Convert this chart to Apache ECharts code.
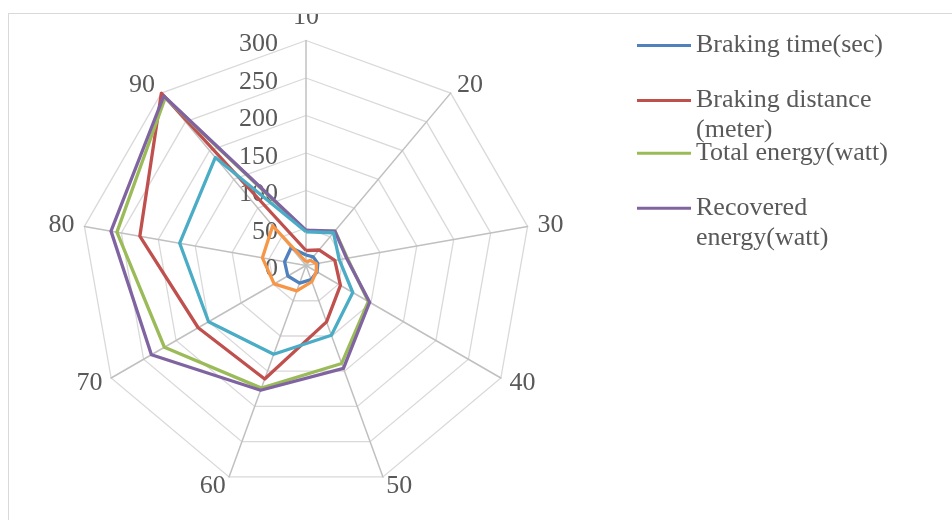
<!DOCTYPE html>
<html>
<head>
<meta charset="utf-8">
<style>
  html, body { margin: 0; padding: 0; background: #ffffff; overflow: hidden; width: 952px; height: 520px; }
  #frame { position: absolute; left: 8px; top: 13px; width: 960px; height: 520px; border: 1px solid #d9d9d9; }
  #chart { width: 960px; height: 520px; }
</style>
<script src="https://cdn.jsdelivr.net/npm/echarts@6/dist/echarts.min.js"></script>
</head>
<body>
<div id="frame"><div id="chart"></div></div>
<script>
// Spoke categories, listed clockwise from the top
const categories = ['10', '20', '30', '40', '50', '60', '70', '80', '90'];

// Value scale of the spokes
const scaleMax = 300;
const scaleSteps = 6;

// Series values, one per category
const brakingTime      = [14, 15, 16, 17, 20, 25, 28, 29, 31];
const brakingDistance  = [20, 27, 39, 53, 80, 161, 166, 225, 300];
const totalEnergy      = [46, 60, 56, 96, 139, 174, 218, 256, 292];
const recoveredEnergy  = [47, 60, 55, 98, 146, 177, 238, 264, 295];
const series5          = [45, 57, 45, 72, 99, 126, 150, 171, 188];
const series6          = [5, 9, 14, 16, 23, 36, 49, 59, 69];

const seriesNames  = ['Braking time(sec)', 'Braking distance (meter)', 'Total energy(watt)', 'Recovered energy(watt)', 'Series 5', 'Series 6'];
const seriesValues = [brakingTime, brakingDistance, totalEnergy, recoveredEnergy, series5, series6];
const seriesColors = ['#4F81BD', '#C0504D', '#9BBB59', '#8064A2', '#4BACC6', '#F79646'];

// Legend entries (only the first four are listed) and their wrapped text
const legendNames  = seriesNames.slice(0, 4);
const legendLabels = ['Braking time(sec)', 'Braking distance\n(meter)', 'Total energy(watt)', 'Recovered\nenergy(watt)'];

const FONT = '"Liberation Serif", "Times New Roman", serif';
const TEXT = '#595959';

// ECharts lays radar indicators out counter-clockwise, so walk the
// categories in reverse (keeping the first at the top) to run clockwise.
const order = [0].concat(categories.map((c, i) => i).slice(1).reverse());

const indicator = order.map((idx, k) => {
  const ind = { name: categories[idx], min: 0, max: scaleMax };
  if (k === 0) {
    // value labels sit a little below each ring on the top spoke
    ind.axisLabel = {
      show: true, color: TEXT, fontSize: 26, fontFamily: FONT, margin: 28,
      verticalAlign: 'top', lineHeight: 8
    };
  }
  return ind;
});

const radarData = seriesValues.map((vals, i) => ({
  name: seriesNames[i],
  value: order.map(idx => vals[idx]),
  itemStyle: { color: seriesColors[i] },
  lineStyle: { color: seriesColors[i], width: 3.3, join: 'round' }
}));

// One legend block per entry so the swatch sits on the first text line
const legendTops = [16.5, 41.5, 124.3, 149.3];
const legends = legendNames.map((name, i) => {
  const label = legendLabels[i];
  return {
    data: [name],
    orient: 'vertical',
    left: 628,
    top: legendTops[i],
    padding: 0,
    icon: 'rect',
    itemWidth: 54,
    itemHeight: 3,
    selectedMode: false,
    formatter: () => (label.indexOf('\n') >= 0 ? ' \n' + label : label),
    textStyle: { color: TEXT, fontSize: 26, fontFamily: FONT, lineHeight: 30 }
  };
});

const chart = echarts.init(document.getElementById('chart'), null, { renderer: 'canvas' });
chart.setOption({
  animation: false,
  backgroundColor: '#ffffff',
  legend: legends,
  radar: {
    center: [297, 251.5],
    radius: 225,
    startAngle: 90,
    shape: 'polygon',
    splitNumber: scaleSteps,
    indicator: indicator,
    nameGap: 10,
    axisName: { color: TEXT, fontSize: 26, fontFamily: FONT },
    axisLabel: { show: false },
    axisTick: { show: false },
    axisLine: { lineStyle: { color: '#c0c0c0', width: 1.5 } },
    splitLine: { lineStyle: { color: '#d9d9d9', width: 1.3 } },
    splitArea: { show: false }
  },
  series: [{
    type: 'radar',
    symbol: 'none',
    data: radarData
  }]
});
</script>
</body>
</html>
